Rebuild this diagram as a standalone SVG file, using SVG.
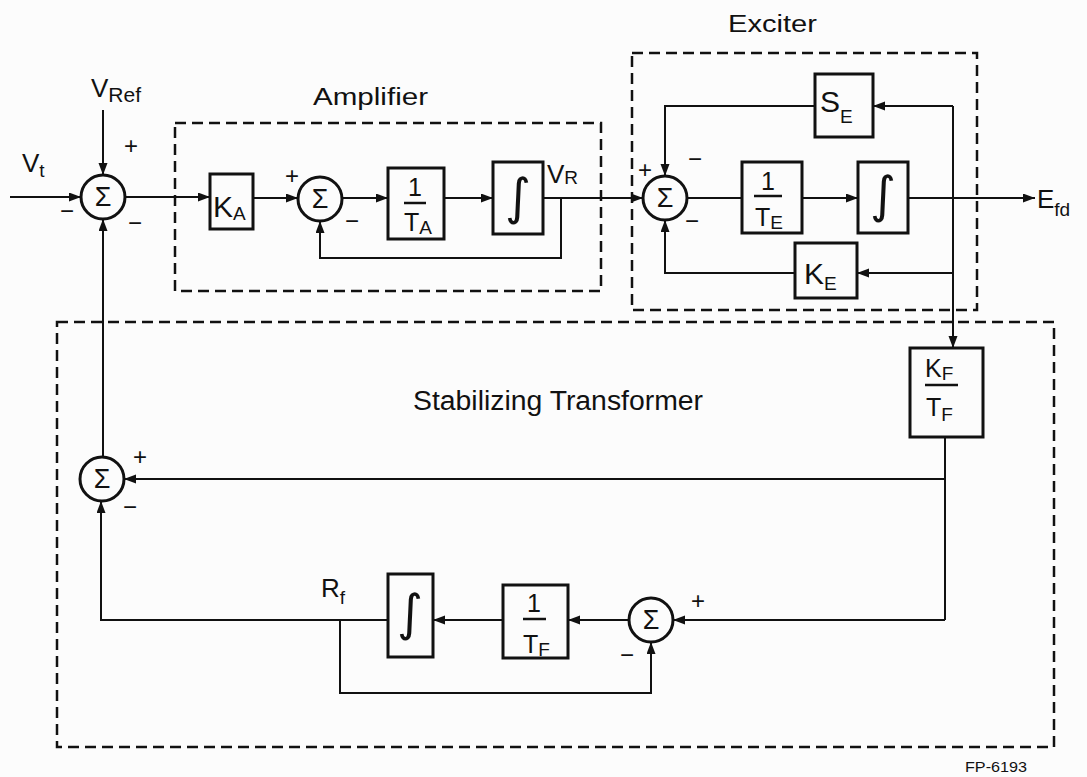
<svg xmlns="http://www.w3.org/2000/svg" width="1087" height="777" viewBox="0 0 1087 777">
<defs>
<marker id="arr" markerUnits="userSpaceOnUse" markerWidth="13" markerHeight="10" refX="12" refY="4.5" orient="auto">
<path d="M0,0 L12,4.5 L0,9 z" fill="#111"/>
</marker>
<style>
text{font-family:"Liberation Sans",Arial,sans-serif;fill:#111}
.box{fill:#fcfcfc;stroke:#111;stroke-width:3}
.sum{fill:#fcfcfc;stroke:#111;stroke-width:3}
.ln{fill:none;stroke:#111;stroke-width:2}
.ar{fill:none;stroke:#111;stroke-width:2;marker-end:url(#arr)}
.dash{fill:none;stroke:#111;stroke-width:2.5;stroke-dasharray:11 6}
.bar{stroke:#111;stroke-width:2.5}
.sig{font-size:27px;text-anchor:middle}
.sgn{font-size:24px;text-anchor:middle}
.intg{font-family:"DejaVu Sans",sans-serif;font-size:50px;text-anchor:middle}
.big{font-size:30px}
.mid{font-size:25px}
.sub{font-size:19px}
.title{font-size:23px}
</style>
</defs>
<rect width="1087" height="777" fill="#fcfcfc"/>

<g id="groups">
<rect class="dash" x="175" y="123" width="426" height="168"/>
<rect class="dash" x="632" y="53" width="345" height="257"/>
<rect class="dash" x="57" y="322" width="997" height="425"/>
<text class="title" x="313" y="105" textLength="115" lengthAdjust="spacingAndGlyphs">Amplifier</text>
<text class="title" x="728" y="32" textLength="89" lengthAdjust="spacingAndGlyphs">Exciter</text>
<text x="413" y="410" font-size="27" textLength="290" lengthAdjust="spacingAndGlyphs">Stabilizing Transformer</text>
<text x="965" y="772" font-family="Liberation Mono, monospace" font-size="15" textLength="62" lengthAdjust="spacingAndGlyphs">FP-6193</text>
</g>

<g id="connectors">
<line class="ar" x1="10" y1="197" x2="81" y2="197"/>
<line class="ar" x1="103" y1="110" x2="103" y2="175"/>
<line class="ar" x1="125" y1="197" x2="210" y2="197"/>
<line class="ar" x1="253" y1="198" x2="298" y2="198"/>
<line class="ar" x1="342" y1="198" x2="388" y2="198"/>
<line class="ar" x1="444" y1="198" x2="493" y2="198"/>
<line class="ar" x1="543" y1="198" x2="643" y2="198"/>
<polyline class="ar" points="561,198 561,258 320,258 320,221"/>
<line class="ln" x1="687" y1="198" x2="742" y2="198"/>
<line class="ar" x1="802" y1="198" x2="858" y2="198"/>
<line class="ar" x1="908" y1="198" x2="1035" y2="198"/>
<line class="ar" x1="953" y1="106" x2="953" y2="348"/>
<line class="ar" x1="953" y1="106" x2="873" y2="106"/>
<line class="ar" x1="953" y1="273" x2="857" y2="273"/>
<polyline class="ar" points="815,106 665,106 665,176"/>
<polyline class="ar" points="795,273 665,273 665,220"/>
<line class="ln" x1="945" y1="437" x2="945" y2="620"/>
<line class="ar" x1="945" y1="479" x2="124" y2="479"/>
<line class="ar" x1="945" y1="620" x2="673" y2="620"/>
<line class="ar" x1="103" y1="457" x2="103" y2="219"/>
<polyline class="ar" points="388,620 101,620 101,501"/>
<line class="ar" x1="629" y1="620" x2="568" y2="620"/>
<line class="ar" x1="503" y1="620" x2="433" y2="620"/>
<polyline class="ar" points="340,620 340,693 651,693 651,642"/>
</g>

<g id="labels">
<text x="22" y="172" font-size="26">V<tspan class="sub" dy="5">t</tspan></text>
<text x="91" y="97" font-size="26">V<tspan font-size="21" dy="5">Ref</tspan></text>
<text x="547" y="183" font-size="26">V<tspan class="sub" dy="1">R</tspan></text>
<text x="1037" y="208" font-size="26">E<tspan class="sub" dy="8">fd</tspan></text>
<text x="321" y="597" font-size="26">R<tspan class="sub" dy="7">f</tspan></text>
<text class="sgn" x="131" y="154">+</text>
<text class="sgn" x="67" y="219">−</text>
<text class="sgn" x="135" y="231">−</text>
<text class="sgn" x="292" y="184">+</text>
<text class="sgn" x="352" y="229">−</text>
<text class="sgn" x="645" y="178">+</text>
<text class="sgn" x="695" y="167">−</text>
<text class="sgn" x="692" y="229">−</text>
<text class="sgn" x="140" y="465">+</text>
<text class="sgn" x="130" y="515">−</text>
<text class="sgn" x="698" y="609">+</text>
<text class="sgn" x="627" y="663">−</text>
</g>

<g id="sum1"><circle class="sum" cx="103" cy="197" r="22"/><text class="sig" x="103" y="206">Σ</text></g>
<g id="sum2"><circle class="sum" cx="320" cy="199" r="22"/><text class="sig" x="320" y="208">Σ</text></g>
<g id="sum3"><circle class="sum" cx="665" cy="198" r="22"/><text class="sig" x="665" y="207">Σ</text></g>
<g id="sum4"><circle class="sum" cx="102" cy="479" r="22"/><text class="sig" x="102" y="488">Σ</text></g>
<g id="sum5"><circle class="sum" cx="651" cy="620" r="22"/><text class="sig" x="651" y="629">Σ</text></g>

<g id="KA"><rect class="box" x="210" y="174" width="43" height="55"/><text class="big" x="213" y="217">K<tspan class="sub" dy="3">A</tspan></text></g>
<g id="TA"><rect class="box" x="388" y="168" width="56" height="71"/><text class="mid" x="415" y="196" text-anchor="middle">1</text><line class="bar" x1="404" y1="203" x2="426" y2="203"/><text class="mid" x="404" y="231">T<tspan class="sub" dy="3">A</tspan></text></g>
<g id="IA"><rect class="box" x="493" y="162" width="50" height="72"/><text class="intg" x="518" y="214">∫</text></g>
<g id="SE"><rect class="box" x="815" y="74" width="58" height="63"/><text class="big" x="820" y="112">S<tspan class="sub" dy="11">E</tspan></text></g>
<g id="TE"><rect class="box" x="742" y="162" width="60" height="71"/><text class="mid" x="768" y="190" text-anchor="middle">1</text><line class="bar" x1="754" y1="196" x2="782" y2="196"/><text class="mid" x="755" y="226">T<tspan class="sub" dy="3">E</tspan></text></g>
<g id="IE"><rect class="box" x="858" y="162" width="50" height="71"/><text class="intg" x="883" y="212" font-size="42">∫</text></g>
<g id="KE"><rect class="box" x="795" y="243" width="62" height="55"/><text class="big" x="804" y="284">K<tspan class="sub" dy="6">E</tspan></text></g>
<g id="KFTF"><rect class="box" x="910" y="348" width="73" height="89"/><text class="mid" x="925" y="377">K<tspan class="sub" dy="3">F</tspan></text><line class="bar" x1="925" y1="385" x2="958" y2="385"/><text class="mid" x="926" y="416">T<tspan class="sub" dy="5">F</tspan></text></g>
<g id="TF"><rect class="box" x="503" y="585" width="65" height="73"/><text class="mid" x="534" y="612" text-anchor="middle">1</text><line class="bar" x1="523" y1="619" x2="546" y2="619"/><text class="mid" x="523" y="653">T<tspan class="sub" dy="3">F</tspan></text></g>
<g id="IF"><rect class="box" x="388" y="574" width="45" height="83"/><text class="intg" x="410" y="630">∫</text></g>
</svg>
